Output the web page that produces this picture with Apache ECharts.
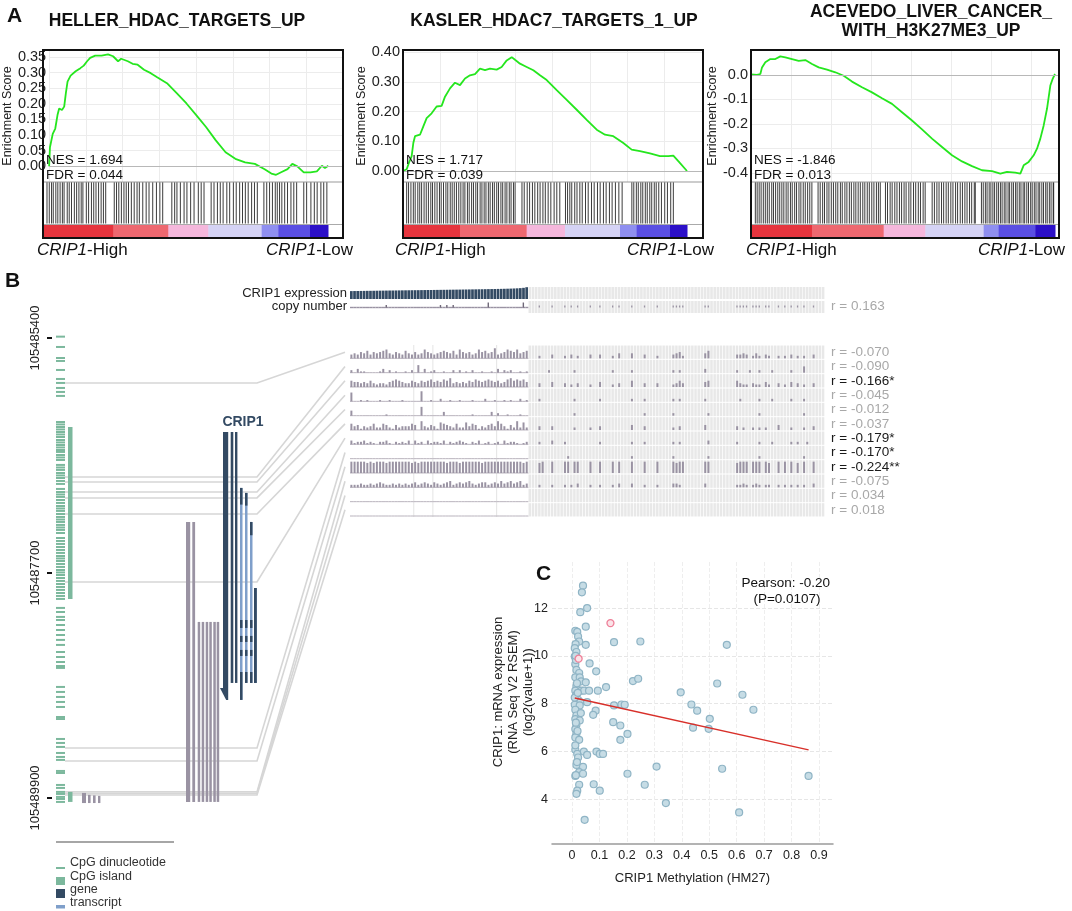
<!DOCTYPE html>
<html>
<head>
<meta charset="utf-8">
<script src="https://cdn.jsdelivr.net/npm/echarts@6/dist/echarts.min.js"></script>
<style>
  html, body { margin: 0; padding: 0; background: #fff; }
  #chart { width: 1072px; height: 911px; }
</style>
</head>
<body>
<div id="chart"></div>
<script>
// ---------- panel A : GSEA running enrichment scores (rank position of 19000 genes) ----------
const geneSets = ['HELLER_HDAC_TARGETS_UP', 'KASLER_HDAC7_TARGETS_1_UP', 'ACEVEDO_LIVER_CANCER_\nWITH_H3K27ME3_UP'];
const nesValues = [1.694, 1.717, -1.846];
const fdrValues = [0.044, 0.039, 0.013];
const esTicks = [
  [0, 0.05, 0.1, 0.15, 0.2, 0.25, 0.3, 0.35],
  [0, 0.1, 0.2, 0.3, 0.4],
  [-0.4, -0.3, -0.2, -0.1, 0]
];

const esHeller = [[0,0],[57,0.061],[247,0.104],[418,0.121],[570,0.164],[684,0.185],[874,0.180],[1026,0.191],[1140,0.234],[1254,0.271],[1463,0.290],[1805,0.304],[2128,0.314],[2356,0.322],[2584,0.336],[2793,0.347],[3135,0.354],[3572,0.354],[4009,0.358],[4351,0.352],[4693,0.336],[4902,0.344],[5358,0.336],[5681,0.328],[6023,0.325],[6460,0.309],[6916,0.298],[7353,0.285],[8018,0.266],[8683,0.234],[9348,0.201],[10013,0.164],[10678,0.126],[11343,0.083],[12008,0.045],[12673,0.024],[13338,0.013],[14003,0.008],[14668,-0.009],[15124,-0.023],[15447,-0.027],[15789,-0.019],[16226,-0.009],[16549,0.008],[16891,0.000],[17328,-0.019],[17784,-0.019],[18221,-0.016],[18563,0.002],[18772,-0.005],[19000,0.002]];
const esKasler = [[0,0],[67,-0.006],[247,0.006],[400,0.028],[580,0.05],[690,0.094],[803,0.117],[1137,0.122],[1360,0.150],[1582,0.178],[1916,0.194],[2250,0.217],[2585,0.219],[2810,0.25],[3144,0.278],[3478,0.297],[3813,0.289],[4148,0.311],[4482,0.322],[4817,0.326],[5151,0.344],[5486,0.339],[5820,0.344],[6266,0.341],[6600,0.35],[6937,0.372],[7272,0.383],[7493,0.374],[7827,0.361],[8275,0.35],[8720,0.339],[9165,0.322],[9613,0.306],[10282,0.272],[10951,0.239],[11620,0.206],[12290,0.172],[12958,0.139],[13514,0.122],[14070,0.117],[14740,0.094],[15298,0.072],[15854,0.067],[16523,0.059],[17192,0.05],[17750,0.05],[18084,0.052],[18418,0.033],[19000,0.000]];
const esAcevedo = [[0,0.002],[62,0.004],[375,0.0],[584,0.004],[688,0.031],[896,0.052],[1208,0.065],[1521,0.065],[1833,0.076],[2146,0.072],[2563,0.065],[2981,0.058],[3396,0.061],[3813,0.045],[4231,0.031],[4750,0.022],[5271,0.011],[5792,-0.003],[6313,-0.027],[6938,-0.050],[7563,-0.071],[8188,-0.095],[8813,-0.118],[9438,-0.152],[10063,-0.186],[10688,-0.222],[11313,-0.260],[11938,-0.294],[12563,-0.328],[13188,-0.353],[13813,-0.372],[14438,-0.389],[15063,-0.393],[15583,-0.403],[16000,-0.396],[16521,-0.399],[16833,-0.403],[17042,-0.369],[17354,-0.355],[17667,-0.328],[17875,-0.301],[18083,-0.260],[18292,-0.206],[18500,-0.138],[18708,-0.043],[18854,-0.016],[19000,0.004]];

// gene-set member positions in the ranked list
const hitsHeller = [266,418,570,684,855,988,1140,1292,1406,1615,1748,1900,2090,2242,2394,2546,2660,2888,3040,3230,3382,3534,3705,3876,4028,4180,4750,4902,5054,5225,5396,5548,5700,5890,6080,6270,6422,6650,6878,7068,7315,7562,7790,7980,8588,8778,8930,9158,9405,9595,9842,10070,10355,10545,10735,11210,11400,11628,11818,12008,12255,12445,12692,12882,13110,13300,13490,13680,13908,14098,14288,14725,14915,15105,15295,15485,15618,15770,15922,16112,16302,16530,16720,16910,17385,17575,17860,18088,18278,18525,18715,18924];
const hitsKasler = [245,372,530,690,815,990,1120,1245,1410,1555,1700,1860,1975,2130,2280,2440,2555,2710,2870,2995,3160,3290,3430,3575,3730,3870,4020,4140,4310,4430,4590,4715,4870,4990,5160,5280,5430,5550,5710,5830,5990,6110,6270,6390,6550,6670,6830,6950,7110,7230,7390,7500,7960,8110,8310,8470,8660,8820,9010,9170,9360,9520,9710,9890,10110,10290,10490,10870,11010,11160,11290,11490,11640,11830,11990,12210,12390,12610,12790,13010,13190,13410,13590,13810,13990,14210,14440,14660,15310,15440,15610,15740,15910,16040,16210,16340,16510,16640,16810,16940,17110,17290,17510,17690,17910,18085];
const hitsAcevedo = [271,385,510,632,770,895,1020,1142,1296,1405,1538,1672,1795,1928,2051,2196,2318,2465,2577,2730,2846,2998,3117,3265,3392,3540,3672,3805,4192,4325,4478,4594,4748,4871,5018,5152,5296,5424,5587,5703,5868,5994,6147,6273,6429,6552,6698,6833,6987,7114,7266,7395,7548,7682,7838,7963,8080,8404,8533,8696,8822,8987,9124,9278,9413,9567,9694,9866,9992,10158,10293,10457,10592,10758,10885,11323,11462,11618,11752,11908,12041,12197,12333,12489,12622,12787,12913,13077,13214,13368,13503,13659,13792,13955,14018,14402,14515,14648,14753,14886,14994,15118,15224,15357,15463,15588,15694,15827,15933,16068,16164,16297,16403,16538,16634,16767,16873,17008,17104,17237,17343,17478,17574,17707,17813,17948,18044,18177,18283,18418,18514,18647,18753,18886,18917];

// ranked-list metric bands [startRank, endRank, band]; band 0 = most positive, 6 = most negative
const bandsHeller = [[0,4690,0],[4690,8356,1],[8356,11022,2],[11022,14578,3],[14578,15690,4],[15690,17800,5],[17800,19000,6]];
const bandsKasler = [[0,3813,0],[3813,8272,1],[8272,10837,2],[10837,14516,3],[14516,15631,4],[15631,17861,5],[17861,19000,6]];
const bandsAcevedo = [[0,3812,0],[3812,8292,1],[8292,10896,2],[10896,14542,3],[14542,15479,4],[15479,17771,5],[17771,19000,6]];

// ---------- panel B : MEXPRESS view ----------
const N_LEFT = 56, N_RIGHT = 93;          // samples with / without expression data
const crip1Expression = [9.02,9.05,9.07,9.10,9.12,9.15,9.16,9.18,9.21,9.23,9.25,9.27,9.30,9.31,9.33,9.36,9.38,9.40,9.42,9.44,9.46,9.47,9.50,9.52,9.54,9.56,9.58,9.60,9.62,9.64,9.66,9.69,9.71,9.73,9.75,9.78,9.80,9.82,9.85,9.87,9.90,9.92,9.95,9.98,10.01,10.04,10.07,10.10,10.14,10.18,10.23,10.29,10.36,10.45,10.60,10.90];
const copyLeft = ['00000000','00010000','00000000','00001010','10000000','00020000','00000020'];
const copyRight = ['...1...1..','.1.1.1...1','..1...1.1.','..1...1...','1....1111.','.....11...','.....1111.','111.11..1.','1.1.1.1..1','...'];
const copyR = 0.163;

// methylation level per sample (0-9) for the 12 probes, samples sorted by expression
const methLeft = [
  ['34354635','45674354','36435347','54345654','63754534','75645834','57657456'],
  ['20311000','01302010','01020603','01200100','20201020','01001030','21200101'],
  ['54434353','23324565','43354354','56454657','34343546','54565453','46756564'],
  ['70010100','01001000','10000080','01002001','00100010','00200100','10100201'],
  ['40000000','00010000','00000070','00000300','00000010','00003020','01000100'],
  ['53413235','22542142','33354073','24316543','25226354','13245375','31427262'],
  ['31223121','02231021','21303120','31221302','12321021','30120120','31221012'],
  [],
  ['99999898','99989999','99989899','99999989','99899999','98999999','99999989'],
  ['22232232','34322323','23234234','32432345','23434532','34423435','34534523'],
  [],
  []
];
const methRight = [
  ['...2...3..','.2.3.2...3','..3...2.4.','..4...3...','2....3452.','.....46...','.....3343.','242.32..2.','2.3.2.2..3','...'],
  ['......2...','....2.....','......2...','..2.......','.....2.2..','.....3....','.....2...2','..2...2...','..2...5...','...'],
  ['...3...4..','.3.2.3...2','..4...2.3.','..5...3...','3....2353.','.....45...','.....5322.','322.42..3.','2.4.3.2..3','...'],
  ['...2......','....2.....','..2.......','..2...2...','.....2.2..','.....2....','......2...','..2...2...','..2...2...','...'],
  ['..........','....2.....','..........','......2...','.....2....','......2...','..........','..2.......','......2...','...'],
  ['...3...3..','....2....2','..3.......','..4...3...','.....2.3..','.....4....','.....3.2..','2.2.2...4.','..2...2..3','...'],
  ['...2...3..','.2........','..2.......','..2...2...','.....2.2..','......3...','.....2....','..2...2...','..2.2..2..','...'],
  ['..........','..2.......','..........','..2.......','.....2....','......2...','..........','..2.......','......2...','...'],
  ['...89..9..','.99.99...9','..9...9.9.','..9...9...','9....9899.','.....99...','.....8999.','999.98..9.','9.9.8.9..9','...'],
  ['...2...2..','.2.2.3...2','..2...2.3.','..3...2...','2....332..','.....3....','.....2232.','232.22..2.','2.2.2.2..3','...'],
  [],
  []
];
const probeR = [-0.070, -0.090, -0.166, -0.045, -0.012, -0.037, -0.179, -0.170, -0.224, -0.075, 0.034, 0.018];
const probeStars = ['', '', '*', '', '', '', '*', '*', '**', '', '', ''];
const groupBreaks = [20, 26, 46];

// genomic features, positions as offsets from chr14:105485000
const BASE = 105485000;
const coordTicks = [105485400, 105487700, 105489900];
const cpgDinuc = [387,488,596,625,713,801,840,889,928,967,
  1222,1246,1271,1295,1320,1344,1369,1398,1422,1447,1471,1496,1515,1545,1569,1594,1642,1667,1691,1721,1745,1770,1799,1828,1877,1907,1931,1955,1985,2014,2044,2068,2092,2122,2151,2176,2200,2229,2254,2278,2308,2357,2386,2415,2445,2474,2503,2533,2557,2582,2611,2640,2670,2694,2719,2748,2777,2807,2836,2865,2895,2924,2953,
  3041,3081,3129,3159,3208,3257,3306,3354,3403,3472,3521,3570,3609,3628,3814,3863,3912,3961,4010,4108,4128,4323,4362,4401,4460,4499,4528,4636,4656,4773,4802,4841,4861,4890,4910,4939];
const cpgIslands = [[1271, 2953], [4841, 4939]];
const otherFeatures = [[0,2200,4939],[1,2200,4939],[2,3178,4939],[3,3178,4939],[4,3178,4939],[5,3178,4939],[6,3178,4939],[7,3178,4939],[8,4851,4950],[9,4870,4950],[10,4875,4950],[11,4880,4950]];
const geneName = 'CRIP1';
const genes = [[0,1320,3941],[1,1320,3775],[2,1320,3775]];
const transcripts = [[0,1867,3941],[1,1916,3775],[2,2200,3775],[3,2846,3775]];
const exons = [[0,1867,2030],[0,3159,3237],[0,3315,3374],[0,3452,3511],[0,3668,3941],
  [1,1916,2040],[1,3159,3237],[1,3315,3374],[1,3452,3511],[1,3668,3775],
  [2,2200,2330],[2,3159,3237],[2,3315,3374],[2,3452,3511],[2,3668,3775],
  [3,2846,3775]];
const probePositions = [840, 1760, 1809, 1907, 1965, 2122, 2787, 4411, 4538, 4841, 4856, 4871];

// ---------- panel C : expression vs methylation ----------
const samplePoints = [[0.040,12.94],[0.036,12.66],[0.055,12.0],[0.030,11.83],[0.050,11.22],[0.012,11.05],[0.019,11.0],[0.022,10.81],[0.026,10.6],[0.013,10.49],[0.050,10.46],[0.153,10.57],[0.249,10.6],[0.564,10.46],[0.010,10.32],[0.016,10.16],[0.010,9.97],[0.012,9.65],[0.064,9.68],[0.016,9.41],[0.088,9.35],[0.026,9.28],[0.012,9.1],[0.028,9.1],[0.033,8.93],[0.050,8.89],[0.222,8.94],[0.241,9.04],[0.529,8.84],[0.016,8.72],[0.124,8.69],[0.012,8.54],[0.034,8.54],[0.044,8.54],[0.062,8.54],[0.094,8.54],[0.396,8.47],[0.621,8.37],[0.016,8.37],[0.022,8.16],[0.030,8.06],[0.055,8.06],[0.010,7.95],[0.028,7.92],[0.153,7.92],[0.180,7.96],[0.192,7.95],[0.435,7.96],[0.456,7.70],[0.661,7.74],[0.012,7.74],[0.086,7.70],[0.077,7.53],[0.016,7.50],[0.032,7.60],[0.012,7.35],[0.028,7.29],[0.502,7.36],[0.150,7.22],[0.176,7.08],[0.016,7.11],[0.441,6.99],[0.498,6.94],[0.012,6.93],[0.016,6.73],[0.202,6.73],[0.012,6.58],[0.026,6.48],[0.176,6.48],[0.012,6.06],[0.043,5.99],[0.089,5.99],[0.101,5.89],[0.113,5.89],[0.019,5.89],[0.055,5.85],[0.022,5.74],[0.016,5.43],[0.040,5.35],[0.308,5.36],[0.547,5.27],[0.026,5.13],[0.040,5.06],[0.202,5.06],[0.012,4.97],[0.862,4.97],[0.026,4.60],[0.079,4.62],[0.265,4.60],[0.019,4.35],[0.016,4.22],[0.101,4.35],[0.342,3.83],[0.609,3.44],[0.046,3.13],[0.014,9.82],[0.018,8.85],[0.010,8.25],[0.014,7.2],[0.020,6.85],[0.012,6.25],[0.018,5.55],[0.014,5.0],[0.021,8.45],[0.013,10.0]];
const flaggedPoints = [[0.140, 11.37], [0.024, 9.88]];
const fitLine = [[0.010, 8.23], [0.862, 6.06]];
const pearsonR = -0.20, pearsonP = 0.0107;
const methTicks = [0, 0.1, 0.2, 0.3, 0.4, 0.5, 0.6, 0.7, 0.8, 0.9];
const exprTicks = [4, 6, 8, 10, 12];

// ---------- styling / layout ----------
const FONT = '"Liberation Sans", Arial, sans-serif';
const NAVY = '#334a63', LIGHTBLUE = '#7f9fca', GREEN = '#7cb89d', MAUVE = '#9a93a3';
const NA_GREY = '#e8e8e8', LINK_GREY = '#d6d6d6';
const BAND_COLORS = ['#e6353e', '#ee6870', '#f5b7dc', '#d5d3f5', '#8f8ff0', '#5a4fe3', '#2c10c8'];
const gseaLayout = [
  { left: 43, width: 300, xMax: 20000, yMin: -0.05, yMax: 0.372, digits: 2, nameGap: 30, highX: 37, lowX: 353, titleX: 177 },
  { left: 403, width: 300, xMax: 20070, yMin: -0.037, yMax: 0.407, digits: 2, nameGap: 30, highX: 395, lowX: 714, titleX: 554 },
  { left: 751, width: 308, xMax: 19250, yMin: -0.437, yMax: 0.102, digits: 1, nameGap: 26, highX: 746, lowX: 1065, titleX: 931 }
];
const HEAT = { left: 350, top: 345, width: 475, height: 172 };
const HEAT_ROW_H = HEAT.height / probeR.length;
const LANES = {
  other: [[186,4.2],[192.3,2.8],[197.7,2.5],[201.7,2.5],[205.7,2.5],[209.3,2.5],[213.3,2.5],[216.7,2.5],[82,4],[88,2.6],[93,2.6],[98,2.4]],
  gene: [[223,5.2],[230.7,2.6],[235,2.4]],
  tx: [[240,2.5],[245,2.5],[250,2.5],[254,2.8]]
};

function padRow(groups, n) { return (groups.join('') + '.'.repeat(n)).slice(0, n); }
function levels(s) { return s.split('').map(ch => (ch === '.' ? 0 : Number(ch))); }

const grids = [], xAxes = [], yAxes = [], series = [], graphics = [];
const txt = (text, x, y, opts) => ({ type: 'text', z: 50,
  style: Object.assign({ text, x, y, fontFamily: FONT, fontSize: 13, fontWeight: 'normal', fill: '#111', textAlign: 'left', textVerticalAlign: 'middle' }, opts || {}) });

// ---------- panel A ----------
const esSets = [esHeller, esKasler, esAcevedo];
const hitSets = [hitsHeller, hitsKasler, hitsAcevedo];
const bandSets = [bandsHeller, bandsKasler, bandsAcevedo];
gseaLayout.forEach((L, i) => {
  const gEs = grids.length;
  grids.push({ left: L.left, top: 50, width: L.width, height: 132 });
  xAxes.push({ gridIndex: gEs, type: 'value', min: 0, max: L.xMax, interval: 2500, axisLine: { show: false }, axisTick: { show: false }, axisLabel: { show: false }, splitLine: { lineStyle: { color: '#ececec' } } });
  yAxes.push({ gridIndex: gEs, type: 'value', min: L.yMin, max: L.yMax,
    axisLine: { show: false }, axisTick: { show: false, customValues: esTicks[i] },
    axisLabel: { customValues: esTicks[i], formatter: v => v.toFixed(L.digits), fontSize: 14.5, color: '#222', margin: 3, fontFamily: FONT },
    splitLine: { lineStyle: { color: '#ececec' } },
    name: 'Enrichment Score', nameLocation: 'middle', nameGap: L.nameGap, nameTextStyle: { fontSize: 12.5, color: '#222', fontFamily: FONT } });
  series.push({ type: 'line', xAxisIndex: xAxes.length - 1, yAxisIndex: yAxes.length - 1, data: esSets[i], showSymbol: false, z: 3,
    lineStyle: { color: '#25e61e', width: 1.8 },
    markLine: { silent: true, symbol: 'none', label: { show: false }, lineStyle: { color: '#b8b8b8', type: 'solid', width: 1 }, data: [{ yAxis: 0 }] } });

  const gHit = grids.length;
  grids.push({ left: L.left, top: 182, width: L.width, height: 55 });
  xAxes.push({ gridIndex: gHit, type: 'value', min: 0, max: L.xMax, show: false });
  yAxes.push({ gridIndex: gHit, type: 'value', min: 0, max: 1, show: false });
  series.push({ type: 'custom', xAxisIndex: xAxes.length - 1, yAxisIndex: yAxes.length - 1,
    data: hitSets[i].map(r => [r, 1]),
    renderItem: (p, api) => {
      const a = api.coord([api.value(0), 1]), b = api.coord([api.value(0), 0.245]);
      return { type: 'line', shape: { x1: a[0], y1: a[1], x2: b[0], y2: b[1] }, style: { stroke: '#111', lineWidth: 1, opacity: 0.82 } };
    } });
  series.push({ type: 'custom', xAxisIndex: xAxes.length - 1, yAxisIndex: yAxes.length - 1,
    data: bandSets[i],
    renderItem: (p, api) => {
      const a = api.coord([api.value(0), 0.22]), b = api.coord([api.value(1), 0]);
      return { type: 'rect', shape: { x: a[0], y: a[1], width: b[0] - a[0] + 0.5, height: b[1] - a[1] }, style: { fill: BAND_COLORS[api.value(2)] } };
    } });

  graphics.push({ type: 'line', z: 40, shape: { x1: L.left, y1: 182, x2: L.left + L.width, y2: 182 }, style: { stroke: '#999', lineWidth: 1 } });
  graphics.push({ type: 'line', z: 40, shape: { x1: L.left, y1: 224.5, x2: L.left + L.width, y2: 224.5 }, style: { stroke: '#aaa', lineWidth: 1 } });
  graphics.push({ type: 'rect', z: 45, shape: { x: L.left, y: 50, width: L.width, height: 188 }, style: { fill: 'none', stroke: '#111', lineWidth: 2 } });
  graphics.push(txt(geneSets[i], L.titleX, i === 2 ? 21.5 : 21, { fontWeight: 'bold', fontSize: 17.5, textAlign: 'center', lineHeight: 19 }));
  graphics.push(txt('NES = ' + nesValues[i].toFixed(3), L.left + 3, 160, { fontSize: 13.5 }));
  graphics.push(txt('FDR = ' + fdrValues[i].toFixed(3), L.left + 3, 175, { fontSize: 13.5 }));
  const rich = { i: { fontStyle: 'italic', fontSize: 17, fontFamily: FONT, fill: '#111' } };
  graphics.push(txt('{i|CRIP1}-High', L.highX, 250, { fontSize: 17, rich }));
  graphics.push(txt('{i|CRIP1}-Low', L.lowX, 250, { fontSize: 17, rich, textAlign: 'right' }));
});

// ---------- panel B : sample tracks ----------
const sampleIds = Array.from({ length: N_LEFT + N_RIGHT }, (_, i) => i);
const gTop = grids.length;
grids.push({ left: HEAT.left, top: 287, width: HEAT.width, height: 26 });
xAxes.push({ gridIndex: gTop, type: 'category', data: sampleIds, show: false });
yAxes.push({ gridIndex: gTop, type: 'category', data: ['CRIP1 expression', 'copy number'], inverse: true, position: 'left',
  axisLine: { show: false }, axisTick: { show: false }, axisLabel: { interval: 0, fontSize: 13, color: '#222', margin: 3, fontFamily: FONT } });
yAxes.push({ gridIndex: gTop, type: 'category', data: ['', 'r = ' + copyR.toFixed(3)], inverse: true, position: 'right',
  axisLine: { show: false }, axisTick: { show: false }, axisLabel: { interval: 0, fontSize: 13.5, color: '#a8a8a8', margin: 6, fontFamily: FONT } });
const topX = xAxes.length - 1, topY = yAxes.length - 2;
const copyLevels = levels(padRow(copyLeft, N_LEFT) + padRow(copyRight, N_RIGHT));
const topData = [];
sampleIds.forEach(s => {
  topData.push([s, 0, s < N_LEFT ? crip1Expression[s] : 0]);
  topData.push([s, 1, copyLevels[s]]);
});
series.push({ type: 'custom', xAxisIndex: topX, yAxisIndex: topY, data: topData,
  renderItem: (p, api) => {
    const s = api.value(0), row = api.value(1), v = api.value(2);
    const c = api.coord([s, row]), sz = api.size([1, 1]);
    const x0 = c[0] - sz[0] / 2, top = c[1] - sz[1] / 2, bottom = c[1] + sz[1] / 2;
    const kids = [];
    if (s >= N_LEFT) {
      kids.push({ type: 'rect', shape: { x: x0, y: top + (row === 0 ? 0 : 1), width: sz[0] - 0.6, height: sz[1] - 1 }, style: { fill: NA_GREY } });
      if (row === 1 && v > 0) kids.push({ type: 'rect', shape: { x: x0 + 0.6, y: c[1] - 1, width: 1.3, height: 2 }, style: { fill: MAUVE } });
    } else if (row === 0) {
      const h = Math.max(1, (v - 5.2) / 5.8 * (sz[1] - 1));
      kids.push({ type: 'rect', shape: { x: x0, y: bottom - 1 - h, width: sz[0] - 0.5, height: h }, style: { fill: NAVY } });
    } else {
      kids.push({ type: 'line', shape: { x1: x0, y1: c[1] + 1, x2: x0 + sz[0], y2: c[1] + 1 }, style: { stroke: MAUVE, lineWidth: 1.4 } });
      if (v > 0) kids.push({ type: 'rect', shape: { x: x0 + 0.5, y: c[1] + 1 - v * 2.5, width: 1.4, height: v * 2.5 }, style: { fill: '#6f6878' } });
    }
    return { type: 'group', children: kids };
  } });

const gHeat = grids.length;
grids.push(Object.assign({}, HEAT));
xAxes.push({ gridIndex: gHeat, type: 'category', data: sampleIds, show: false });
yAxes.push({ gridIndex: gHeat, type: 'category', data: probeR.map((r, i) => 'r = ' + r.toFixed(3) + probeStars[i]), inverse: true, position: 'right',
  axisLine: { show: false }, axisTick: { show: false },
  axisLabel: { interval: 0, margin: 6, fontFamily: FONT, fontSize: 13.5,
    formatter: (val, idx) => (probeStars[idx] ? '{s|' + val + '}' : '{n|' + val + '}'),
    rich: { s: { color: '#1a1a1a', fontSize: 13.5, fontFamily: FONT }, n: { color: '#a8a8a8', fontSize: 13.5, fontFamily: FONT } } } });
const heatX = xAxes.length - 1, heatY = yAxes.length - 1;
const heatData = [];
probeR.forEach((_, r) => {
  levels(padRow(methLeft[r], N_LEFT) + padRow(methRight[r], N_RIGHT)).forEach((v, s) => heatData.push([s, r, v]));
});
series.push({ type: 'custom', xAxisIndex: heatX, yAxisIndex: heatY, data: groupBreaks.map(s => [s, 0]),
  renderItem: (p, api) => {
    const a = api.coord([api.value(0), 0]), b = api.coord([api.value(0), probeR.length - 1]), sz = api.size([1, 1]);
    const x = a[0] - sz[0] / 2;
    return { type: 'line', shape: { x1: x, y1: a[1] - sz[1] / 2, x2: x, y2: b[1] + sz[1] / 2 }, style: { stroke: '#e4e4e4', lineWidth: 1 } };
  } });
series.push({ type: 'custom', xAxisIndex: heatX, yAxisIndex: heatY, data: heatData,
  renderItem: (p, api) => {
    const s = api.value(0), r = api.value(1), v = api.value(2);
    const c = api.coord([s, r]), sz = api.size([1, 1]);
    const x0 = c[0] - sz[0] / 2, top = c[1] - sz[1] / 2, bottom = c[1] + sz[1] / 2;
    const kids = [];
    if (s >= N_LEFT) {
      kids.push({ type: 'rect', shape: { x: x0, y: top + 0.5, width: sz[0] - 0.7, height: sz[1] - 1 }, style: { fill: NA_GREY } });
    } else {
      kids.push({ type: 'line', shape: { x1: x0, y1: bottom - 1, x2: x0 + sz[0], y2: bottom - 1 }, style: { stroke: '#b9b3bd', lineWidth: 1 } });
    }
    if (v > 0) {
      const h = v / 9 * (sz[1] - 3);
      kids.push({ type: 'rect', shape: { x: x0 + 0.4, y: bottom - 1 - h, width: Math.max(1, sz[0] * 0.62), height: h }, style: { fill: MAUVE } });
    }
    return { type: 'group', children: kids };
  } });

// ---------- panel B : genomic track ----------
const gGene = grids.length;
grids.push({ left: 52, top: 330, width: 300, height: 480 });
xAxes.push({ gridIndex: gGene, type: 'value', min: 0, max: 12, show: false });
yAxes.push({ gridIndex: gGene, type: 'value', inverse: true, min: 105485322, max: 105490018,
  axisLine: { show: false }, splitLine: { show: false },
  axisTick: { show: true, customValues: coordTicks, length: 5, lineStyle: { color: '#111', width: 2 } },
  axisLabel: { customValues: coordTicks, formatter: v => String(v), rotate: 90, margin: 10, fontSize: 13, color: '#222', fontFamily: FONT } });
const geneX = xAxes.length - 1, geneY = yAxes.length - 1;
const gy = (api, bp) => api.coord([0, bp])[1];
const rectItem = (x, w, y1, y2, fill) => ({ type: 'rect', shape: { x, y: y1, width: w, height: Math.max(1, y2 - y1) }, style: { fill } });

series.push({ type: 'custom', xAxisIndex: geneX, yAxisIndex: geneY, z: 1,
  data: probePositions.map((o, i) => [i, BASE + o]),
  renderItem: (p, api) => {
    const y = gy(api, api.value(1));
    const rowY = HEAT.top + (api.value(0) + 0.5) * HEAT_ROW_H;
    return { type: 'polyline', shape: { points: [[65, y], [257, y], [345, rowY]] }, style: { stroke: LINK_GREY, lineWidth: 1.6, fill: null } };
  } });
series.push({ type: 'custom', xAxisIndex: geneX, yAxisIndex: geneY, z: 2,
  data: cpgDinuc.map(o => [0, BASE + o]),
  renderItem: (p, api) => { const y = gy(api, api.value(1)); return rectItem(56, 9, y - 1, y + 1, GREEN); } });
series.push({ type: 'custom', xAxisIndex: geneX, yAxisIndex: geneY, z: 2,
  data: cpgIslands.map(([a, b]) => [0, BASE + a, BASE + b]),
  renderItem: (p, api) => rectItem(68, 4.5, gy(api, api.value(1)), gy(api, api.value(2)), GREEN) });
series.push({ type: 'custom', xAxisIndex: geneX, yAxisIndex: geneY, z: 2,
  data: otherFeatures.map(([l, a, b]) => [l, BASE + a, BASE + b]),
  renderItem: (p, api) => { const ln = LANES.other[api.value(0)]; return rectItem(ln[0], ln[1], gy(api, api.value(1)), gy(api, api.value(2)), MAUVE); } });
series.push({ type: 'custom', xAxisIndex: geneX, yAxisIndex: geneY, z: 3,
  data: genes.map(([l, a, b]) => [l, BASE + a, BASE + b]),
  renderItem: (p, api) => {
    const ln = LANES.gene[api.value(0)];
    const y1 = gy(api, api.value(1)), y2 = gy(api, api.value(2));
    if (api.value(0) !== 0) return rectItem(ln[0], ln[1], y1, y2, NAVY);
    const r = ln[0] + ln[1];
    return { type: 'group', children: [
      rectItem(ln[0], ln[1], y1, y2 - 12, NAVY),
      { type: 'polygon', shape: { points: [[ln[0] - 3, y2 - 12], [r, y2 - 12], [r, y2], [r - 2, y2]] }, style: { fill: NAVY } },
      { type: 'text', style: { text: geneName, x: 243, y: y1 - 10, fontFamily: FONT, fontWeight: 'bold', fontSize: 14, fill: NAVY, textAlign: 'center', textVerticalAlign: 'middle' } }
    ] };
  } });
series.push({ type: 'custom', xAxisIndex: geneX, yAxisIndex: geneY, z: 3,
  data: transcripts.map(([l, a, b]) => [l, BASE + a, BASE + b]),
  renderItem: (p, api) => { const ln = LANES.tx[api.value(0)]; return rectItem(ln[0], ln[1], gy(api, api.value(1)), gy(api, api.value(2)), LIGHTBLUE); } });
series.push({ type: 'custom', xAxisIndex: geneX, yAxisIndex: geneY, z: 4,
  data: exons.map(([l, a, b]) => [l, BASE + a, BASE + b]),
  renderItem: (p, api) => { const ln = LANES.tx[api.value(0)]; return rectItem(ln[0], ln[1], gy(api, api.value(1)), gy(api, api.value(2)), NAVY); } });

// track legend
graphics.push({ type: 'line', shape: { x1: 56, y1: 842, x2: 174, y2: 842 }, style: { stroke: '#a6a6a6', lineWidth: 2 } });
graphics.push({ type: 'rect', shape: { x: 56, y: 867, width: 9, height: 2 }, style: { fill: GREEN } });
graphics.push({ type: 'rect', shape: { x: 56, y: 877, width: 9, height: 8 }, style: { fill: GREEN } });
graphics.push({ type: 'rect', shape: { x: 56, y: 889, width: 9, height: 9 }, style: { fill: NAVY } });
graphics.push({ type: 'rect', shape: { x: 56, y: 905, width: 9, height: 3.5 }, style: { fill: LIGHTBLUE } });
[['CpG dinucleotide', 863], ['CpG island', 877], ['gene', 890], ['transcript', 903]].forEach(([t, y]) => graphics.push(txt(t, 70, y, { fontSize: 12.5, fill: '#333' })));

// ---------- panel C ----------
const gSc = grids.length;
grids.push({ left: 552, top: 562, width: 281, height: 282 });
xAxes.push({ gridIndex: gSc, type: 'value', min: -0.073, max: 0.951,
  axisLine: { lineStyle: { color: '#9a9a9a', width: 1.5 } },
  axisTick: { show: false, customValues: methTicks },
  axisLabel: { customValues: methTicks, formatter: v => (v === 0 ? '0' : v.toFixed(1)), fontSize: 12.5, color: '#222', margin: 5, fontFamily: FONT },
  splitLine: { show: true, lineStyle: { color: '#eeeeee', type: 'dashed' } },
  name: 'CRIP1 Methylation (HM27)', nameLocation: 'middle', nameGap: 28, nameTextStyle: { fontSize: 13, color: '#222', fontFamily: FONT } });
yAxes.push({ gridIndex: gSc, type: 'value', min: 2.117, max: 13.93,
  axisLine: { show: false }, axisTick: { show: false, customValues: exprTicks },
  axisLabel: { customValues: exprTicks, fontSize: 12.5, color: '#222', margin: 4, fontFamily: FONT },
  splitLine: { lineStyle: { color: '#e6e6e6', type: 'dashed' } } });
const scX = xAxes.length - 1, scY = yAxes.length - 1;
series.push({ type: 'scatter', xAxisIndex: scX, yAxisIndex: scY, data: samplePoints, symbolSize: 7, z: 3,
  itemStyle: { color: '#c6dce5', borderColor: '#8fb4c5', borderWidth: 1.2, opacity: 1 } });
series.push({ type: 'scatter', xAxisIndex: scX, yAxisIndex: scY, data: flaggedPoints, symbolSize: 7, z: 4,
  itemStyle: { color: '#fbe3e8', borderColor: '#ee7f98', borderWidth: 1.3, opacity: 1 } });
series.push({ type: 'line', xAxisIndex: scX, yAxisIndex: scY, data: fitLine, showSymbol: false, z: 5,
  lineStyle: { color: '#d8302a', width: 1.5 } });
graphics.push(txt('Pearson: ' + pearsonR.toFixed(2), 830, 583, { fontSize: 13.5, textAlign: 'right' }));
graphics.push(txt('(P=' + pearsonP + ')', 787, 599, { fontSize: 13.5, textAlign: 'center' }));
graphics.push({ type: 'text', z: 50, x: 513, y: 692, rotation: Math.PI / 2,
  style: { text: 'CRIP1: mRNA expression\n(RNA Seq V2 RSEM)\n(log2(value+1))', x: 0, y: 0, fontFamily: FONT, fontSize: 13, lineHeight: 15, fill: '#222', textAlign: 'center', textVerticalAlign: 'middle' } });

// panel letters
graphics.push(txt('A', 7, 16, { fontWeight: 'bold', fontSize: 21 }));
graphics.push(txt('B', 5, 281, { fontWeight: 'bold', fontSize: 21 }));
graphics.push(txt('C', 536, 574, { fontWeight: 'bold', fontSize: 21 }));

const chart = echarts.init(document.getElementById('chart'));
chart.setOption({
  backgroundColor: '#fff',
  animation: false,
  textStyle: { fontFamily: FONT },
  grid: grids,
  xAxis: xAxes,
  yAxis: yAxes,
  series: series,
  graphic: { elements: graphics }
});
</script>
</body>
</html>
